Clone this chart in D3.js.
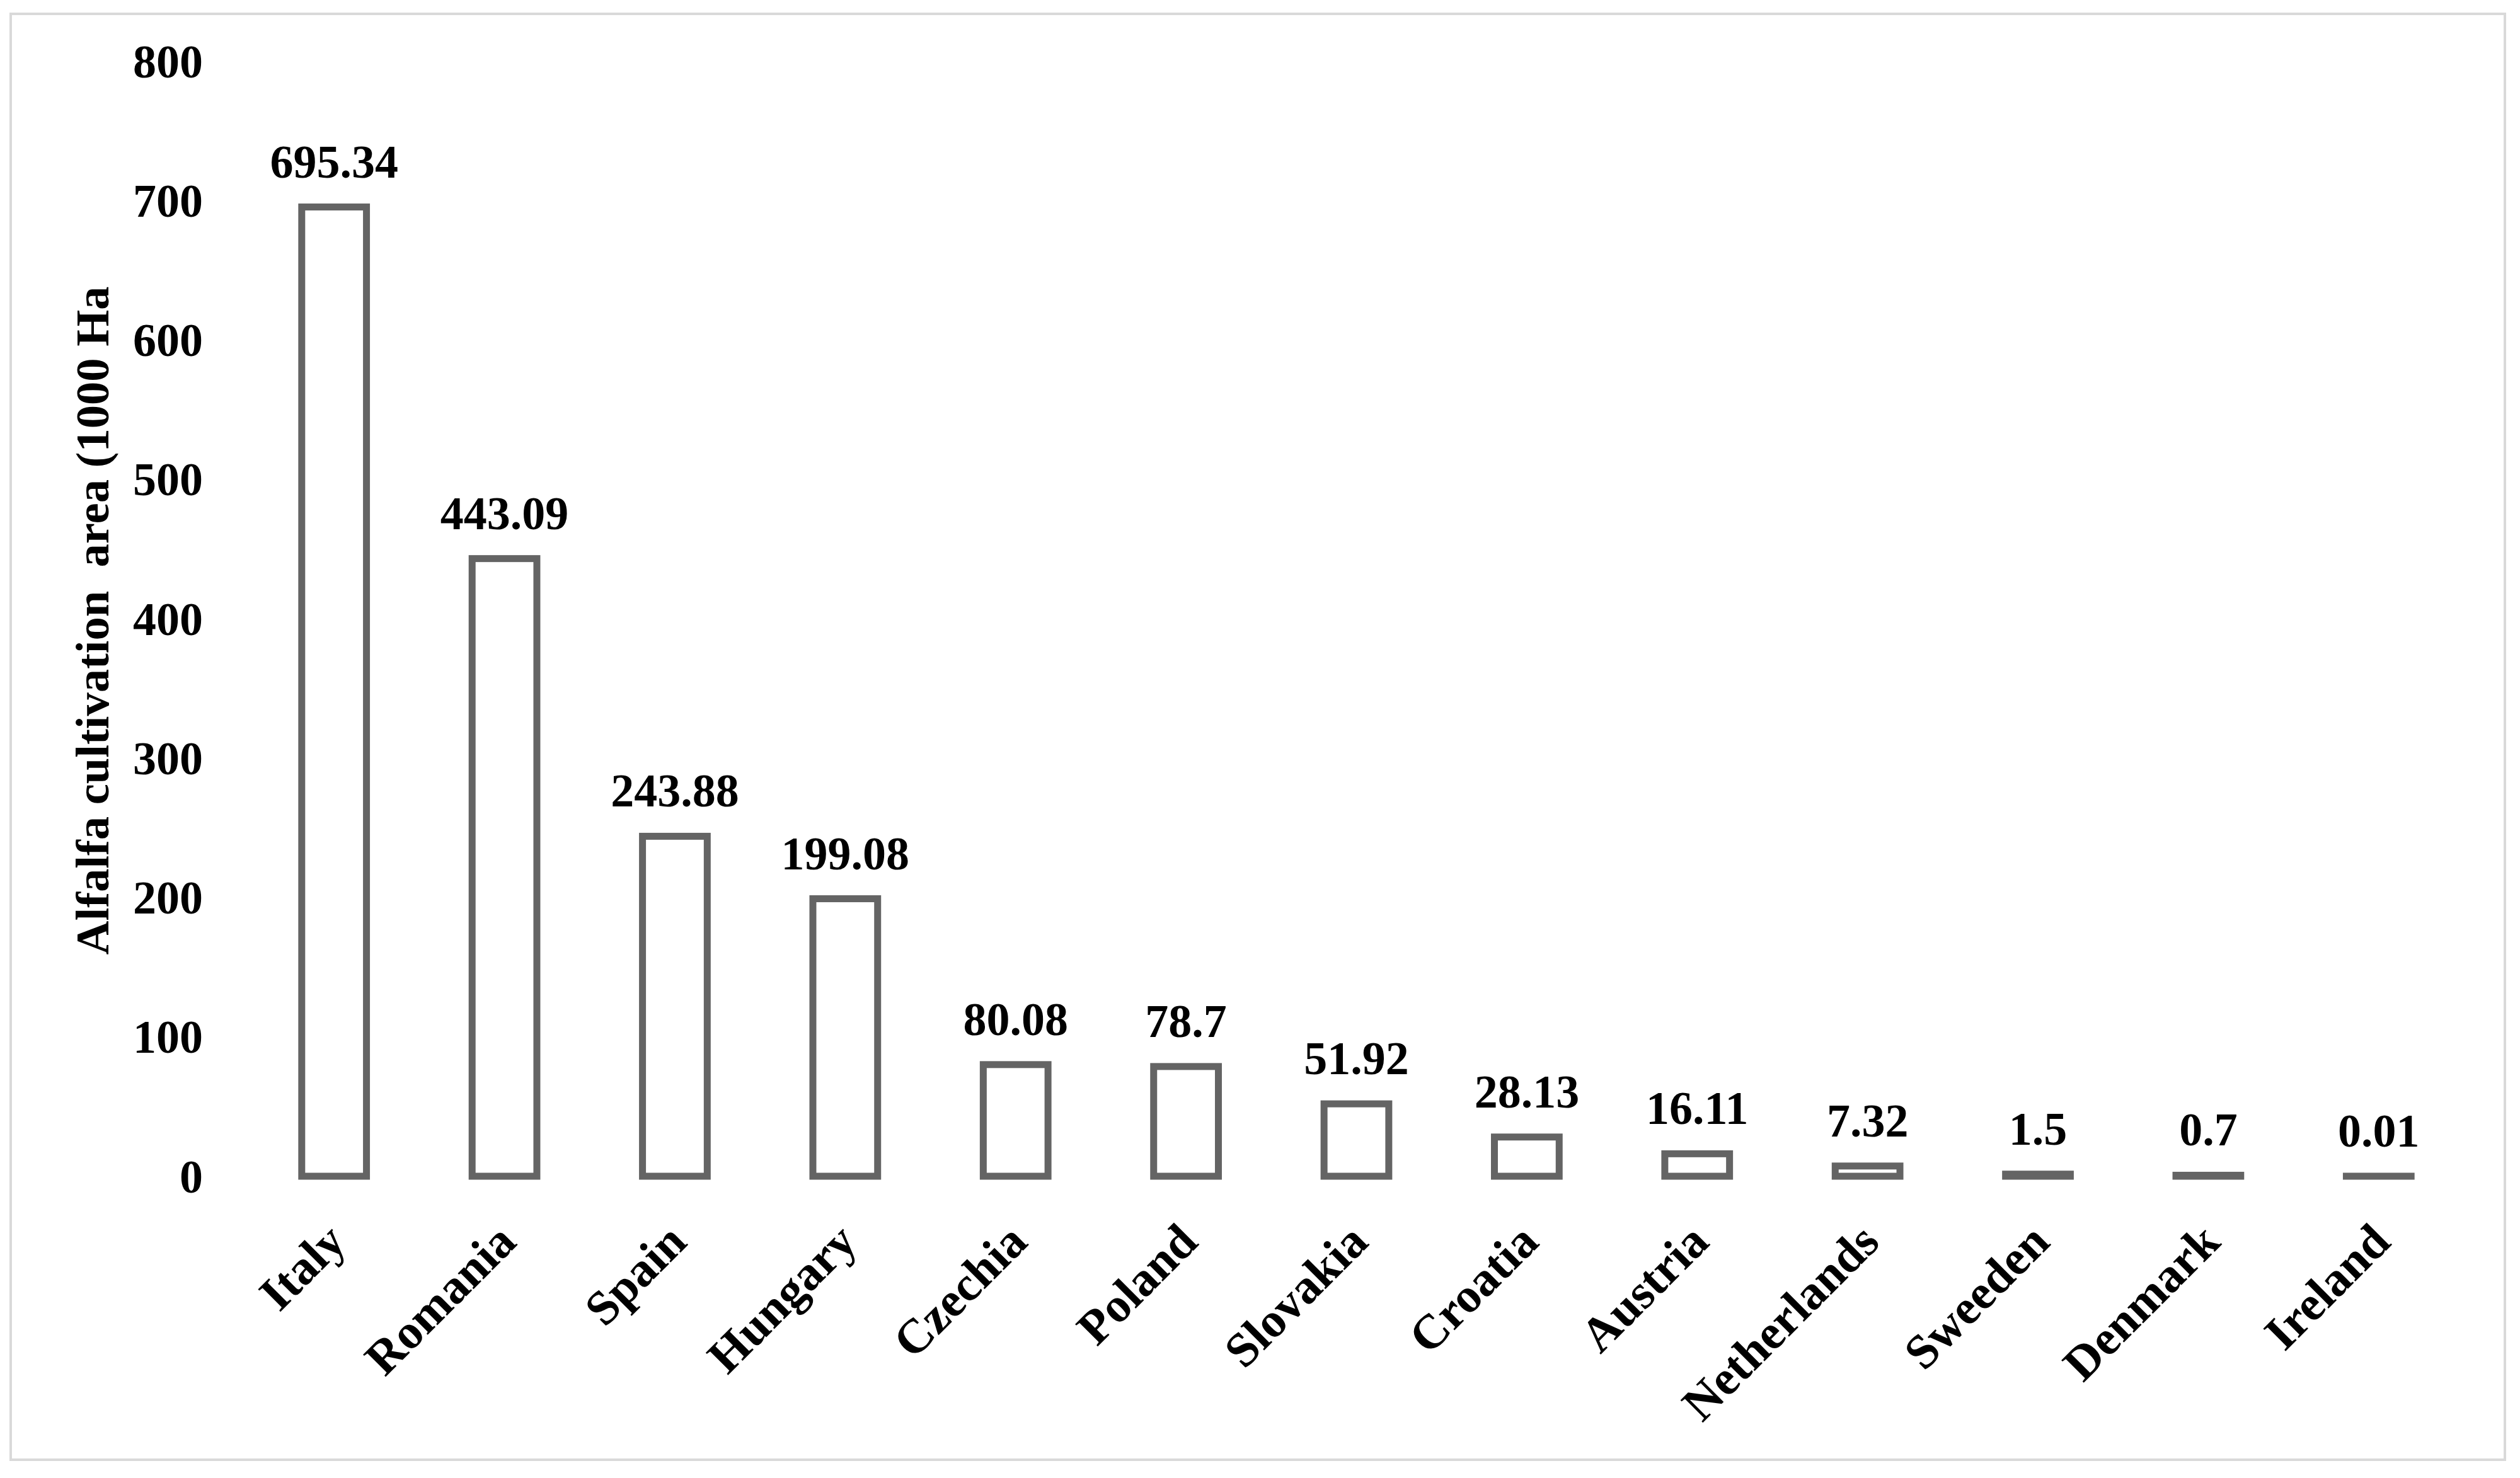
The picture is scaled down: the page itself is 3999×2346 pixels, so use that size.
<!DOCTYPE html>
<html>
<head>
<meta charset="utf-8">
<script src="https://cdn.jsdelivr.net/npm/d3@7"></script>
<style>
  html, body { margin: 0; padding: 0; background: #ffffff; }
  svg { display: block; }
</style>
</head>
<body>
<script>
// ---- data ----
const categories = ["Italy", "Romania", "Spain", "Hungary", "Czechia", "Poland", "Slovakia", "Croatia", "Austria", "Netherlands", "Sweeden", "Denmark", "Ireland"];
const values = [695.34, 443.09, 243.88, 199.08, 80.08, 78.7, 51.92, 28.13, 16.11, 7.32, 1.5, 0.7, 0.01];
const valueLabels = ["695.34", "443.09", "243.88", "199.08", "80.08", "78.7", "51.92", "28.13", "16.11", "7.32", "1.5", "0.7", "0.01"];
const yTicks = [0, 100, 200, 300, 400, 500, 600, 700, 800];
const yTitle = "Alfalfa cultivation  area (1000 Ha";

// ---- layout ----
const W = 3999, H = 2346;
const serif = "'Liberation Serif', 'Times New Roman', serif";

const svg = d3.select("body").append("svg")
  .attr("width", W).attr("height", H)
  .attr("viewBox", `0 0 ${W} ${H}`);

svg.append("rect").attr("width", W).attr("height", H).attr("fill", "#ffffff");

// frame
svg.append("rect")
  .attr("x", 17).attr("y", 22)
  .attr("width", 3958).attr("height", 2295)
  .attr("fill", "none")
  .attr("stroke", "#d9d9d9")
  .attr("stroke-width", 4);

const x = d3.scaleBand()
  .domain(categories)
  .range([395, 3910])
  .paddingInner(0.62)
  .paddingOuter(0.31);

const y = d3.scaleLinear()
  .domain([0, 800])
  .range([1867, 97]);

// y axis (labels only)
const yAxis = d3.axisLeft(y).tickValues(yTicks).tickSize(0).tickPadding(0).tickFormat(d3.format("d"));
const yG = svg.append("g").attr("transform", "translate(322,0)").call(yAxis);
yG.select(".domain").remove();
yG.selectAll("text")
  .attr("font-family", serif)
  .attr("font-weight", "bold")
  .attr("font-size", 74)
  .attr("fill", "#000")
  .attr("dy", "0.34em");

// bars
svg.append("g").selectAll("rect")
  .data(values)
  .join("rect")
  .attr("x", (d, i) => x(categories[i]))
  .attr("width", x.bandwidth())
  .attr("y", d => y(d))
  .attr("height", d => y(0) - y(d))
  .attr("fill", "#ffffff")
  .attr("stroke", "#646464")
  .attr("stroke-width", 11);

// value labels
svg.append("g").selectAll("text")
  .data(values)
  .join("text")
  .attr("x", (d, i) => x(categories[i]) + x.bandwidth() / 2)
  .attr("y", d => y(d) - 47)
  .attr("text-anchor", "middle")
  .attr("font-family", serif)
  .attr("font-weight", "bold")
  .attr("font-size", 74)
  .attr("fill", "#000")
  .text((d, i) => valueLabels[i]);

// x axis category labels
const xAxis = d3.axisBottom(x).tickSize(0).tickPadding(0);
const xG = svg.append("g").attr("transform", "translate(0,1975)").call(xAxis);
xG.select(".domain").remove();
xG.selectAll("text")
  .attr("font-family", serif)
  .attr("font-weight", "bold")
  .attr("font-size", 77)
  .attr("fill", "#000")
  .attr("text-anchor", "end")
  .attr("y", 0)
  .attr("dy", 0)
  .attr("transform", "translate(22,0) rotate(-45)");

// y title
const t = svg.append("text")
  .attr("font-family", serif)
  .attr("font-weight", "bold")
  .attr("font-size", 100)
  .attr("fill", "#000")
  .attr("text-anchor", "middle")
  .style("white-space", "pre")
  .attr("transform", "translate(172,985) rotate(-90)")
  .text(yTitle);
const len = t.node().getComputedTextLength();
t.attr("font-size", 100 * 1061 / len);
</script>
</body>
</html>
